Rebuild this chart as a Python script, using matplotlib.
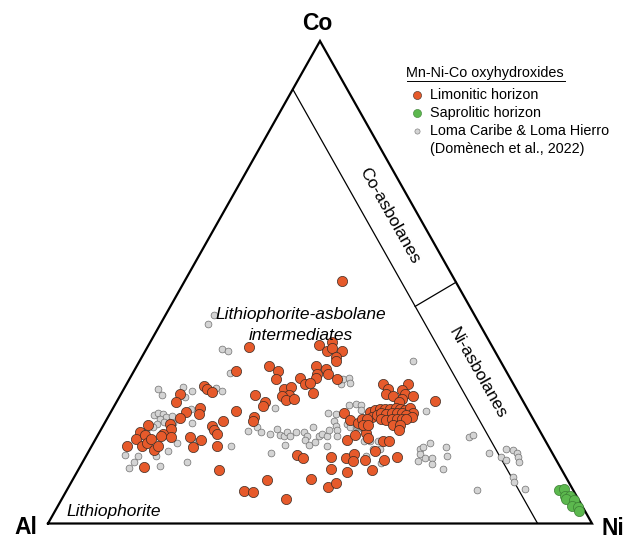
import matplotlib.pyplot as plt
import numpy as np

plt.rcParams['font.family'] = ['Liberation Sans', 'DejaVu Sans']

# compositions (Al, Ni, Co)
limonitic = [
    (20.8, 28.9, 50.3), (44.7, 18.7, 36.6), (31.7, 31.4, 36.9), (29.0, 33.3, 37.7),
    (30.8, 33.5, 35.7), (29.7, 34.0, 36.3), (28.1, 36.1, 35.8), (29.8, 35.7, 34.5),
    (30.3, 36.1, 33.6), (49.6, 18.8, 31.6), (43.0, 24.3, 32.7), (42.0, 26.4, 31.6),
    (43.0, 27.0, 30.0), (34.3, 33.0, 32.7), (35.1, 33.9, 31.0), (35.7, 34.2, 30.1),
    (32.8, 35.1, 32.1), (33.1, 35.9, 31.0), (38.7, 31.2, 30.1), (38.3, 32.8, 28.9),
    (37.2, 33.7, 29.1), (37.8, 35.1, 27.1), (31.9, 38.1, 30.0), (42.6, 29.5, 27.9),
    (41.2, 30.6, 28.2), (42.4, 31.0, 26.6), (43.8, 29.8, 26.4), (43.5, 30.9, 25.6),
    (41.9, 32.4, 25.7), (48.6, 24.8, 26.6), (47.5, 27.3, 25.2), (48.4, 27.3, 24.3),
    (53.7, 23.0, 23.3), (51.1, 26.8, 22.1), (51.7, 27.1, 21.2), (57.0, 14.4, 28.6),
    (56.9, 15.2, 27.9), (56.2, 16.6, 27.2), (62.3, 10.9, 26.8), (63.9, 10.9, 25.2),
    (60.1, 15.9, 24.0), (60.9, 16.5, 22.6), (63.1, 13.8, 23.1), (64.8, 13.3, 21.9),
    (71.3, 8.2, 20.5), (67.2, 12.1, 20.7), (67.6, 12.8, 19.6), (59.8, 20.0, 20.2),
    (59.8, 20.9, 19.3), (59.7, 21.7, 18.6), (57.2, 21.6, 21.2), (73.6, 7.5, 18.9),
    (75.0, 7.5, 17.5), (73.0, 8.6, 18.4), (74.6, 9.3, 16.1), (73.5, 9.8, 16.7),
    (72.3, 10.2, 17.5), (69.6, 11.8, 18.6), (70.2, 11.7, 18.1), (68.4, 13.6, 18.0),
    (77.4, 6.5, 16.1), (72.9, 11.8, 15.3), (71.7, 12.2, 16.1), (64.9, 17.2, 17.9),
    (63.2, 19.4, 17.4), (65.4, 18.8, 15.8), (60.9, 23.0, 16.1), (76.5, 11.7, 11.8),
    (63.1, 25.8, 11.1), (47.2, 38.6, 14.2), (46.4, 40.1, 13.5), (60.6, 32.6, 6.8),
    (59.1, 34.4, 6.5), (55.2, 35.8, 9.0), (53.7, 41.2, 5.1), (47.0, 43.7, 9.3),
    (44.8, 47.6, 7.6), (43.0, 48.7, 8.3), (39.7, 49.6, 10.7), (42.3, 46.5, 11.2),
    (41.0, 45.2, 13.8), (38.5, 48.0, 13.5), (36.5, 49.0, 14.5), (36.3, 46.3, 17.4),
    (34.1, 42.9, 23.0), (33.7, 44.8, 21.5), (32.5, 46.6, 20.9), (31.9, 47.9, 20.2),
    (32.1, 49.1, 18.8), (32.3, 49.9, 17.8), (37.4, 49.6, 13.0), (32.4, 52.6, 15.0),
    (31.7, 55.2, 13.1), (35.1, 51.7, 13.2), (34.9, 54.0, 11.1), (29.0, 57.3, 13.7),
    (29.9, 53.1, 17.0), (28.9, 54.1, 17.0), (23.9, 47.2, 28.9), (23.6, 48.5, 27.9),
    (24.5, 48.7, 26.8), (23.4, 50.2, 26.4), (19.4, 51.7, 28.9), (21.1, 51.2, 27.7),
    (21.0, 52.2, 26.8), (19.6, 53.9, 26.5), (22.0, 52.1, 25.9), (22.8, 52.0, 25.2),
    (16.2, 58.4, 25.4), (29.3, 47.6, 23.1), (28.1, 48.4, 23.5), (27.1, 49.1, 23.8),
    (26.2, 50.0, 23.8), (25.2, 51.0, 23.8), (24.1, 51.9, 24.0), (23.4, 52.8, 23.8),
    (22.6, 53.9, 23.5), (21.4, 54.6, 24.0), (21.5, 55.6, 22.9), (29.4, 48.5, 22.1),
    (28.4, 49.2, 22.4), (27.3, 49.9, 22.8), (26.5, 50.9, 22.6), (25.4, 51.8, 22.8),
    (24.5, 52.7, 22.8), (23.6, 53.6, 22.8), (22.9, 54.7, 22.4), (22.1, 55.8, 22.1),
    (31.5, 46.9, 21.6), (30.6, 47.8, 21.6), (27.9, 50.5, 21.6), (27.1, 51.5, 21.4),
    (26.0, 52.4, 21.6), (25.1, 53.3, 21.6), (24.2, 54.2, 21.6), (23.3, 55.1, 21.6),
    (31.8, 47.7, 20.5), (30.9, 48.6, 20.5), (26.3, 53.2, 20.5), (25.1, 54.4, 20.5),
    (25.8, 54.9, 19.3), (34.4, 47.2, 18.4),
]

saprolitic = [
    (2.5, 90.5, 7.0), (1.5, 91.3, 7.2), (2.0, 92.2, 5.8), (1.2, 93.0, 5.8),
    (2.2, 92.8, 5.0), (1.0, 94.2, 4.8), (1.8, 94.5, 3.7), (0.8, 95.8, 3.4),
    (1.2, 96.3, 2.5),
]

domenech = [
    (47.8, 8.9, 43.3), (49.8, 8.8, 41.4), (50.0, 13.9, 36.1), (49.0, 15.2, 35.8),
    (50.9, 17.9, 31.2), (65.9, 6.3, 27.8), (65.7, 7.7, 26.6), (61.0, 10.8, 28.2),
    (61.7, 12.0, 26.3), (59.8, 12.8, 27.4), (55.2, 16.8, 28.0), (54.3, 18.3, 27.4),
    (61.8, 14.4, 23.8), (69.4, 8.2, 22.4), (68.3, 8.9, 22.8), (67.6, 9.8, 22.6),
    (67.2, 10.7, 22.1), (66.1, 11.6, 22.3), (68.6, 9.8, 21.6), (69.6, 9.7, 20.7),
    (68.1, 10.9, 21.0), (66.6, 12.5, 20.9), (63.2, 16.0, 20.8), (72.4, 8.5, 19.1),
    (67.9, 15.4, 16.7), (63.9, 18.9, 17.2), (58.3, 25.6, 16.1), (78.7, 7.1, 14.2),
    (76.4, 9.6, 14.0), (73.1, 12.9, 14.0), (70.3, 14.6, 15.1), (77.7, 9.5, 12.8),
    (79.4, 9.2, 11.4), (73.4, 14.7, 11.9), (68.1, 19.1, 12.8), (70.7, 9.2, 20.1),
    (46.3, 29.7, 24.0), (53.6, 27.3, 19.1), (51.5, 28.5, 20.0), (51.4, 29.7, 18.9),
    (49.8, 31.6, 18.6), (48.2, 32.3, 19.5), (48.2, 33.4, 18.4), (47.5, 34.3, 18.2),
    (46.6, 34.5, 18.9), (46.5, 35.3, 18.2), (48.3, 35.4, 16.3), (51.6, 33.7, 14.7),
    (44.9, 36.2, 18.9), (43.4, 37.7, 18.9), (43.3, 38.5, 18.2), (44.1, 38.6, 17.3),
    (43.9, 39.8, 16.3), (41.2, 38.8, 20.0), (42.5, 40.7, 16.8), (41.0, 40.8, 18.2),
    (40.4, 41.0, 18.6), (39.7, 42.1, 18.2), (38.7, 42.0, 19.3), (40.7, 43.2, 16.1),
    (37.2, 40.0, 22.8), (35.8, 41.6, 22.6), (36.8, 42.0, 21.2), (36.9, 42.8, 20.3),
    (37.3, 43.4, 19.3), (37.8, 44.0, 18.2), (31.7, 39.4, 28.9), (30.7, 39.3, 30.0),
    (29.6, 40.3, 30.1), (30.0, 40.9, 29.1), (32.5, 43.0, 24.5), (31.0, 44.3, 24.7),
    (34.7, 44.6, 20.7), (34.5, 45.5, 20.0), (33.3, 46.7, 20.0), (16.1, 50.3, 33.6),
    (30.3, 45.2, 24.5), (30.7, 45.8, 23.5), (18.9, 57.8, 23.3), (33.1, 46.6, 20.3),
    (32.4, 47.8, 19.8), (32.3, 48.8, 18.9), (32.2, 50.6, 17.2), (33.5, 49.5, 17.0),
    (30.7, 52.1, 17.2), (31.3, 53.3, 15.4), (32.5, 52.1, 15.4), (34.5, 51.5, 14.0),
    (32.4, 55.0, 12.6), (23.9, 60.7, 15.4), (23.2, 60.9, 15.9), (21.4, 61.9, 16.7),
    (24.5, 61.1, 14.4), (23.9, 62.6, 13.5), (22.6, 63.9, 13.5), (23.3, 64.3, 12.4),
    (18.9, 65.3, 15.8), (19.7, 66.3, 14.0), (21.7, 67.1, 11.2), (25.4, 61.6, 13.0),
    (13.6, 68.5, 17.9), (12.6, 69.0, 18.4), (11.5, 73.8, 14.7), (9.8, 76.5, 13.7),
    (9.2, 77.7, 13.1), (8.1, 76.5, 15.4), (7.0, 77.8, 15.2), (6.4, 78.9, 14.7),
    (6.7, 79.6, 13.7), (7.0, 80.2, 12.8), (9.7, 80.6, 9.7), (10.0, 81.4, 8.6),
    (8.7, 84.1, 7.2), (17.6, 75.4, 7.0),
]

c_lim = '#E65A2B'
c_sap = '#5CB84E'
c_dom = '#D4D4D4'


def tern(rows):
    a = np.array(rows, dtype=float)
    a = a / a.sum(axis=1, keepdims=True)
    ni, co = a[:, 1], a[:, 2]
    return ni + co / 2, co


fig = plt.figure(figsize=(6.39, 5.40), dpi=100)
ax = fig.add_axes([48 / 639, 16.5 / 540, 544 / 639, 482.5 / 540])
ax.set_xlim(0, 1)
ax.set_ylim(0, 1)
ax.axis('off')

# triangle + field boundaries
ax.plot([0, 1, 0.5, 0], [0, 0, 1, 0], color='black', lw=1.6,
        solid_joinstyle='miter', clip_on=False, zorder=2)
ax.plot([0.9, 0.45], [0, 0.9], color='black', lw=0.9, zorder=2)
ax.plot([0.675, 0.75], [0.45, 0.5], color='black', lw=0.9, zorder=2)

x, y = tern(domenech)
ax.scatter(x, y, s=24, color=c_dom, edgecolor='#6f6f6f', linewidth=0.5, zorder=3, clip_on=False)
x, y = tern(limonitic)
ax.scatter(x, y, s=54, color=c_lim, edgecolor='#3a2a22', linewidth=0.5, zorder=4, clip_on=False)
x, y = tern(saprolitic)
ax.scatter(x, y, s=54, color=c_sap, edgecolor='#3c7f34', linewidth=0.5, zorder=4, clip_on=False)

# overlay in pixel units for labels and legend
lax = fig.add_axes([0, 0, 1, 1])
lax.set_xlim(0, 639)
lax.set_ylim(540, 0)
lax.axis('off')
lax.patch.set_visible(False)

lax.text(317.5, 24, 'Co', fontsize=16.5, fontweight='bold', ha='center', va='center')
lax.text(26, 527.5, 'Al', fontsize=16.5, fontweight='bold', ha='center', va='center')
lax.text(613, 528.5, 'Ni', fontsize=16.5, fontweight='bold', ha='center', va='center')

lax.text(301, 319, 'Lithiophorite-asbolane', fontsize=12.5, style='italic', ha='center', va='baseline')
lax.text(301, 340, 'intermediates', fontsize=12.5, style='italic', ha='center', va='baseline')
lax.text(66, 516, 'Lithiophorite', fontsize=12.5, style='italic', ha='left', va='baseline')

lax.text(389, 216, 'Co-asbolanes', fontsize=12.5, rotation=-60.6, rotation_mode='anchor',
         ha='center', va='center')
lax.text(477.5, 373, 'Ni-asbolanes', fontsize=12.5, rotation=-60.6, rotation_mode='anchor',
         ha='center', va='center')

# legend
lax.text(406.5, 73, 'Mn-Ni-Co oxyhydroxides', fontsize=10.4, ha='left', va='center')
lax.plot([406.5, 565], [80.5, 80.5], color='black', lw=0.7)
lax.scatter([416.7], [95], s=34, color=c_lim, edgecolor='#3a2a22', linewidth=0.4)
lax.scatter([416.7], [113.3], s=34, color=c_sap, edgecolor='#3c7f34', linewidth=0.4)
lax.scatter([416.7], [131], s=14, color=c_dom, edgecolor='#6f6f6f', linewidth=0.4)
lax.text(430.5, 95, 'Limonitic horizon', fontsize=10.4, ha='left', va='center')
lax.text(430.5, 113.3, 'Saprolitic horizon', fontsize=10.4, ha='left', va='center')
lax.text(430.5, 131, 'Loma Caribe & Loma Hierro', fontsize=10.4, ha='left', va='center')
lax.text(430.5, 149, '(Domènech et al., 2022)', fontsize=10.4, ha='left', va='center')

fig.savefig('out.png', dpi=100)
